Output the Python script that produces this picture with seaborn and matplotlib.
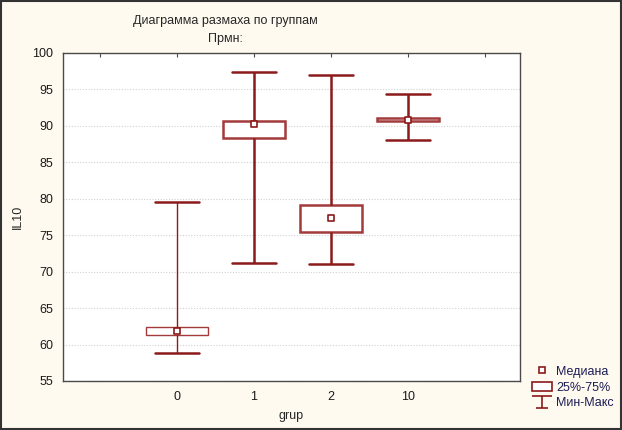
import numpy as np
import pandas as pd
import matplotlib
matplotlib.use("Agg")
import matplotlib.pyplot as plt
import seaborn as sns
from matplotlib.lines import Line2D
from matplotlib.patches import Patch, Rectangle
from matplotlib.path import Path

# summary values (min, q25, median, q75, max)
groups = ["0", "1", "2", "10"]
mins = [58.8, 71.2, 71.0, 88.1]
q25 = [61.3, 88.3, 75.5, 90.6]
medians = [61.8, 90.3, 77.4, 90.8]
q75 = [62.4, 90.7, 79.2, 91.1]
maxs = [79.5, 97.4, 96.9, 94.4]
line_w = [1.0, 1.8, 1.8, 1.8]

order = ["lo", "0", "1", "2", "10", "hi"]
red = "#8b1a1a"
edge = "#a33b3b"

# five points per group -> quartiles fall exactly on the values above
rows = []
for g, a, b, c, d, e in zip(groups, mins, q25, medians, q75, maxs):
    for v in (a, b, c, d, e):
        rows.append({"grup": g, "IL10": v})
df = pd.DataFrame(rows)
df_med = pd.DataFrame({"grup": groups, "IL10": medians})

sns.set_style("white")
plt.rcParams["font.family"] = ["Liberation Sans", "DejaVu Sans"]
plt.rcParams["font.size"] = 9

fig = plt.figure(figsize=(6.22, 4.30), dpi=100)
fig.patch.set_facecolor("#fffaf0")
ax = fig.add_axes([0.101, 0.114, 0.735, 0.763])
ax.set_facecolor("white")

for g, lw in zip(groups, line_w):
    sns.boxplot(data=df[df["grup"] == g], x="grup", y="IL10", order=order,
                whis=(0, 100), width=0.8, ax=ax, color="white", linecolor=red,
                capwidths=0.57,
                boxprops=dict(edgecolor=edge, facecolor="white", linewidth=lw),
                whiskerprops=dict(color=red, linewidth=lw),
                capprops=dict(color=red, linewidth=1.8),
                medianprops=dict(visible=False),
                showfliers=False)

sns.scatterplot(data=df_med, x="grup", y="IL10", marker="s", s=22,
                color="white", edgecolor=red, linewidth=1.2, ax=ax, zorder=5)

ax.set_xlim(-0.48, 5.45)
ax.set_ylim(55, 100)
ax.set_yticks(np.arange(55, 101, 5))
ax.set_xticks(range(len(order)))
ax.set_xticklabels(["", "0", "1", "2", "10", ""])
ax.yaxis.grid(True, linestyle=(0, (1, 1.5)), color="#d0d0d0", linewidth=0.8)
ax.xaxis.grid(False)
ax.set_axisbelow(True)
for s in ax.spines.values():
    s.set_color("#4a4a4a")
    s.set_linewidth(1.0)
ax.tick_params(axis="both", direction="in", length=3, color="#4a4a4a",
               labelsize=9, labelcolor="#1a1a1a")
ax.tick_params(axis="x", top=True, pad=7)
ax.tick_params(axis="y", pad=7)
ax.set_xlabel("grup", fontsize=9, labelpad=5)
ax.set_ylabel("IL10", fontsize=9, labelpad=6)

fig.text(0.362, 0.952, "Диаграмма размаха по группам", ha="center", va="center", fontsize=9)
fig.text(0.362, 0.910, "Прмн:", ha="center", va="center", fontsize=9)

ibeam = Path([(-1, 0.55), (1, 0.55), (0, 0.55), (0, -0.55), (-0.6, -0.55), (0.6, -0.55)],
             [Path.MOVETO, Path.LINETO, Path.MOVETO, Path.LINETO, Path.MOVETO, Path.LINETO])
handles = [
    Line2D([], [], marker="s", linestyle="none", markersize=4.5,
           markerfacecolor="white", markeredgecolor=red, markeredgewidth=1.2),
    Patch(facecolor="white", edgecolor=red, linewidth=1.2),
    Line2D([], [], marker=ibeam, linestyle="none", markersize=15,
           markeredgecolor=red, markeredgewidth=1.2),
]
fig.legend(handles, ["Медиана", "25%-75%", "Мин-Макс"], loc="lower left",
           bbox_to_anchor=(0.838, 0.022), frameon=False, fontsize=9,
           handlelength=1.6, handleheight=0.8, handletextpad=0.3, labelspacing=0.28,
           labelcolor="#1c1c55")

fig.patches.append(Rectangle((0.002, 0.003), 0.996, 0.994, transform=fig.transFigure,
                             fill=False, edgecolor="#333333", linewidth=1.5))

fig.savefig("out.png", dpi=100, facecolor=fig.get_facecolor())
